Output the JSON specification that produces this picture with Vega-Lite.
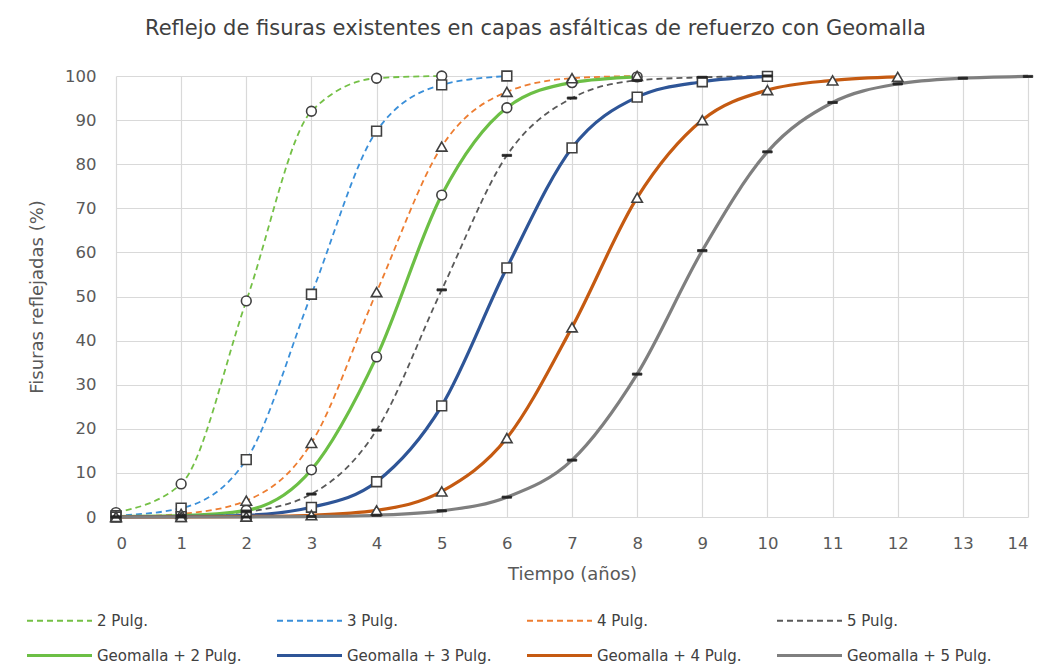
{
  "$schema": "https://vega.github.io/schema/vega-lite/v6.json",
  "width": 912,
  "height": 441,
  "autosize": "none",
  "padding": {"left": 116, "top": 76, "right": 12, "bottom": 151},
  "background": "white",
  "config": {
    "font": "DejaVu Sans",
    "view": {"stroke": null},
    "axis": {"labelColor": "#595959", "titleColor": "#595959", "labelFontSize": 16.5, "titleFontSize": 18, "titleFontWeight": "normal", "gridColor": "#d9d9d9", "gridWidth": 1.2, "ticks": false, "domain": false}
  },
  "title": {"text": "Reflejo de fisuras existentes en capas asfálticas de refuerzo con Geomalla", "fontSize": 21, "fontWeight": "normal", "color": "#404040", "anchor": "start", "frame": "group", "dx": 29, "offset": 29},
  "data": {"values": [
    {"t": 0, "s": "2 Pulg.", "v": 1}, {"t": 1, "s": "2 Pulg.", "v": 7.5}, {"t": 2, "s": "2 Pulg.", "v": 49}, {"t": 3, "s": "2 Pulg.", "v": 92}, {"t": 4, "s": "2 Pulg.", "v": 99.5}, {"t": 5, "s": "2 Pulg.", "v": 100},
    {"t": 0, "s": "3 Pulg.", "v": 0.3}, {"t": 1, "s": "3 Pulg.", "v": 2}, {"t": 2, "s": "3 Pulg.", "v": 13}, {"t": 3, "s": "3 Pulg.", "v": 50.5}, {"t": 4, "s": "3 Pulg.", "v": 87.5}, {"t": 5, "s": "3 Pulg.", "v": 98}, {"t": 6, "s": "3 Pulg.", "v": 100},
    {"t": 0, "s": "4 Pulg.", "v": 0}, {"t": 1, "s": "4 Pulg.", "v": 0.7}, {"t": 2, "s": "4 Pulg.", "v": 3.7}, {"t": 3, "s": "4 Pulg.", "v": 16.8}, {"t": 4, "s": "4 Pulg.", "v": 51}, {"t": 5, "s": "4 Pulg.", "v": 84}, {"t": 6, "s": "4 Pulg.", "v": 96.4}, {"t": 7, "s": "4 Pulg.", "v": 99.5}, {"t": 8, "s": "4 Pulg.", "v": 100},
    {"t": 0, "s": "5 Pulg.", "v": 0}, {"t": 1, "s": "5 Pulg.", "v": 0.3}, {"t": 2, "s": "5 Pulg.", "v": 1.2}, {"t": 3, "s": "5 Pulg.", "v": 5.2}, {"t": 4, "s": "5 Pulg.", "v": 19.7}, {"t": 5, "s": "5 Pulg.", "v": 51.5}, {"t": 6, "s": "5 Pulg.", "v": 82}, {"t": 7, "s": "5 Pulg.", "v": 95}, {"t": 8, "s": "5 Pulg.", "v": 99}, {"t": 9, "s": "5 Pulg.", "v": 99.7}, {"t": 10, "s": "5 Pulg.", "v": 100},
    {"t": 0, "s": "Geomalla + 2 Pulg.", "v": 0.1}, {"t": 1, "s": "Geomalla + 2 Pulg.", "v": 0.3}, {"t": 2, "s": "Geomalla + 2 Pulg.", "v": 1.5}, {"t": 3, "s": "Geomalla + 2 Pulg.", "v": 10.7}, {"t": 4, "s": "Geomalla + 2 Pulg.", "v": 36.3}, {"t": 5, "s": "Geomalla + 2 Pulg.", "v": 73}, {"t": 6, "s": "Geomalla + 2 Pulg.", "v": 92.8}, {"t": 7, "s": "Geomalla + 2 Pulg.", "v": 98.5}, {"t": 8, "s": "Geomalla + 2 Pulg.", "v": 99.8},
    {"t": 0, "s": "Geomalla + 3 Pulg.", "v": 0}, {"t": 1, "s": "Geomalla + 3 Pulg.", "v": 0.1}, {"t": 2, "s": "Geomalla + 3 Pulg.", "v": 0.4}, {"t": 3, "s": "Geomalla + 3 Pulg.", "v": 2.2}, {"t": 4, "s": "Geomalla + 3 Pulg.", "v": 8}, {"t": 5, "s": "Geomalla + 3 Pulg.", "v": 25.2}, {"t": 6, "s": "Geomalla + 3 Pulg.", "v": 56.5}, {"t": 7, "s": "Geomalla + 3 Pulg.", "v": 83.7}, {"t": 8, "s": "Geomalla + 3 Pulg.", "v": 95.2}, {"t": 9, "s": "Geomalla + 3 Pulg.", "v": 98.7}, {"t": 10, "s": "Geomalla + 3 Pulg.", "v": 99.9},
    {"t": 0, "s": "Geomalla + 4 Pulg.", "v": 0}, {"t": 1, "s": "Geomalla + 4 Pulg.", "v": 0}, {"t": 2, "s": "Geomalla + 4 Pulg.", "v": 0.1}, {"t": 3, "s": "Geomalla + 4 Pulg.", "v": 0.4}, {"t": 4, "s": "Geomalla + 4 Pulg.", "v": 1.5}, {"t": 5, "s": "Geomalla + 4 Pulg.", "v": 5.8}, {"t": 6, "s": "Geomalla + 4 Pulg.", "v": 17.9}, {"t": 7, "s": "Geomalla + 4 Pulg.", "v": 43}, {"t": 8, "s": "Geomalla + 4 Pulg.", "v": 72.4}, {"t": 9, "s": "Geomalla + 4 Pulg.", "v": 90}, {"t": 10, "s": "Geomalla + 4 Pulg.", "v": 96.8}, {"t": 11, "s": "Geomalla + 4 Pulg.", "v": 99}, {"t": 12, "s": "Geomalla + 4 Pulg.", "v": 99.8},
    {"t": 0, "s": "Geomalla + 5 Pulg.", "v": 0}, {"t": 1, "s": "Geomalla + 5 Pulg.", "v": 0}, {"t": 2, "s": "Geomalla + 5 Pulg.", "v": 0}, {"t": 3, "s": "Geomalla + 5 Pulg.", "v": 0.1}, {"t": 4, "s": "Geomalla + 5 Pulg.", "v": 0.4}, {"t": 5, "s": "Geomalla + 5 Pulg.", "v": 1.4}, {"t": 6, "s": "Geomalla + 5 Pulg.", "v": 4.5}, {"t": 7, "s": "Geomalla + 5 Pulg.", "v": 12.9}, {"t": 8, "s": "Geomalla + 5 Pulg.", "v": 32.4}, {"t": 9, "s": "Geomalla + 5 Pulg.", "v": 60.4}, {"t": 10, "s": "Geomalla + 5 Pulg.", "v": 82.8}, {"t": 11, "s": "Geomalla + 5 Pulg.", "v": 94}, {"t": 12, "s": "Geomalla + 5 Pulg.", "v": 98.2}, {"t": 13, "s": "Geomalla + 5 Pulg.", "v": 99.5}, {"t": 14, "s": "Geomalla + 5 Pulg.", "v": 99.9}
  ]},
  "encoding": {
    "x": {"field": "t", "type": "quantitative", "scale": {"domain": [0, 14], "nice": false}, "axis": {"values": [0,1,2,3,4,5,6,7,8,9,10,11,12,13,14], "title": "Tiempo (años)", "labelPadding": 18, "titlePadding": 14}},
    "y": {"field": "v", "type": "quantitative", "scale": {"domain": [0, 100], "nice": false}, "axis": {"values": [0,10,20,30,40,50,60,70,80,90,100], "title": "Fisuras reflejadas (%)", "labelPadding": 20, "titlePadding": 18}}
  },
  "layer": [
    {
      "transform": [{"filter": {"field": "s", "oneOf": ["2 Pulg.", "3 Pulg.", "4 Pulg.", "5 Pulg."]}}],
      "mark": {"type": "line", "interpolate": "monotone", "strokeWidth": 1.8, "strokeDash": [6, 4]},
      "encoding": {
        "color": {"field": "s", "type": "nominal", "title": null,
          "scale": {"domain": ["2 Pulg.", "3 Pulg.", "4 Pulg.", "5 Pulg.", "Geomalla + 2 Pulg.", "Geomalla + 3 Pulg.", "Geomalla + 4 Pulg.", "Geomalla + 5 Pulg."],
                    "range": ["#74c046", "#3a8fd9", "#ed7d31", "#595959", "#6cbf45", "#2e5597", "#c55a11", "#7f7f7f"]},
          "legend": {"orient": "none", "direction": "horizontal", "legendX": -90, "legendY": 537, "columns": 4, "gridAlign": "all", "columnPadding": 29, "rowPadding": 19, "symbolType": "stroke", "symbolSize": 4225, "symbolStrokeWidth": 2.4, "symbolOffset": 26, "labelFontSize": 15, "labelColor": "#404040", "labelOffset": 30, "labelLimit": 300,
            "encode": {"symbols": {"update": {
              "strokeDash": {"signal": "datum.index < 4 ? [6, 4] : [1, 0]"},
              "strokeWidth": {"signal": "datum.index < 4 ? 1.8 : 3"}
            }}}}}
      }
    },
    {
      "transform": [{"filter": {"field": "s", "oneOf": ["Geomalla + 2 Pulg.", "Geomalla + 3 Pulg.", "Geomalla + 4 Pulg.", "Geomalla + 5 Pulg."]}}],
      "mark": {"type": "line", "interpolate": "monotone", "strokeWidth": 3.2},
      "encoding": {"color": {"field": "s", "type": "nominal"}}
    },
    {
      "transform": [{"filter": {"field": "s", "oneOf": ["2 Pulg.", "Geomalla + 2 Pulg."]}}],
      "mark": {"type": "point", "shape": "circle", "filled": false, "fill": "white", "fillOpacity": 1, "opacity": 1, "stroke": "#404040", "strokeWidth": 1.6, "size": 95}
    },
    {
      "transform": [{"filter": {"field": "s", "oneOf": ["3 Pulg.", "Geomalla + 3 Pulg."]}}],
      "mark": {"type": "point", "shape": "square", "filled": false, "fill": "white", "fillOpacity": 1, "opacity": 1, "stroke": "#404040", "strokeWidth": 1.6, "size": 95}
    },
    {
      "transform": [{"filter": {"field": "s", "oneOf": ["4 Pulg.", "Geomalla + 4 Pulg."]}}],
      "mark": {"type": "point", "shape": "triangle-up", "filled": false, "fill": "white", "fillOpacity": 1, "opacity": 1, "stroke": "#404040", "strokeWidth": 1.6, "size": 110}
    },
    {
      "transform": [{"filter": {"field": "s", "oneOf": ["5 Pulg.", "Geomalla + 5 Pulg."]}}],
      "mark": {"type": "point", "shape": "M-1,-0.22H1V0.22H-1Z", "filled": true, "fill": "#262626", "opacity": 1, "stroke": "#262626", "strokeWidth": 0.8, "size": 90}
    }
  ]
}
